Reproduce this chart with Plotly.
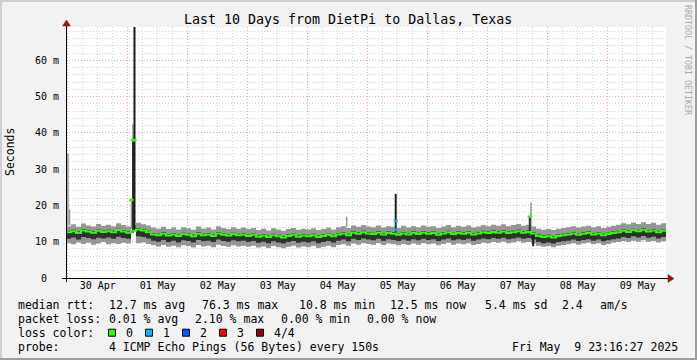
import pandas as pd
import plotly.graph_objects as go

# ---------------- data ----------------
start = "2025-04-29 23:16:27"
end = "2025-05-09 23:16:27"
step_hours = 2

med = [12.6, 12.9, 12.4, 13.1, 12.8, 12.5, 13.0, 12.7, 12.9, 12.6, 13.2, 12.8,
       12.5, 13.0, 13.4, 13.1, 12.6, 12.0, 11.8, 12.2, 11.7, 12.0, 11.6, 12.1,
       11.9, 11.5, 12.2, 11.8, 12.0, 11.6, 12.3, 11.9, 11.7, 12.1, 11.8, 12.0,
       11.6, 11.9, 11.4, 11.7, 11.3, 11.8, 11.5, 11.2, 11.6, 11.9, 11.4, 11.7,
       11.5, 11.8, 11.3, 11.6, 11.9, 11.5, 12.0, 12.3, 11.8, 12.5, 12.2, 12.6,
       12.3, 12.1, 12.5, 12.0, 12.4, 12.2, 11.9, 12.3, 12.0, 12.4, 12.1, 12.5,
       12.2, 12.4, 11.9, 12.3, 12.6, 12.1, 12.4, 12.2, 12.5, 12.0, 12.3, 12.6,
       12.4, 12.7, 12.5, 12.8, 12.4, 12.6, 12.9, 12.5, 12.7, 12.3, 11.6, 11.3,
       11.5, 11.2, 11.6, 11.8, 12.0, 12.3, 11.9, 12.2, 12.4, 12.0, 12.3, 11.8,
       12.1, 12.4, 12.6, 13.0, 12.7, 13.2, 12.9, 13.3, 12.8, 13.1, 12.6, 13.0]

smoke_hi = [14.3, 14.8, 14.1, 15.0, 14.5, 14.2, 14.9, 14.4, 14.7, 14.3, 15.1, 14.6,
            14.2, 14.6, 15.2, 14.8, 14.5, 13.9, 13.6, 14.1, 13.5, 13.9, 13.4, 14.0,
            13.7, 13.3, 14.2, 13.6, 13.9, 13.4, 14.3, 13.8, 13.5, 14.0, 13.6, 13.9,
            13.5, 13.8, 13.2, 13.6, 13.1, 13.7, 13.4, 13.0, 13.5, 13.8, 13.3, 13.6,
            13.4, 13.7, 13.2, 13.5, 13.9, 13.4, 14.0, 14.3, 13.8, 14.5, 14.1, 14.6,
            14.2, 14.0, 14.5, 13.9, 14.3, 14.1, 13.8, 14.4, 13.9, 14.3, 14.0, 14.5,
            14.1, 14.3, 13.8, 14.2, 14.6, 14.0, 14.4, 14.1, 14.5, 13.9, 14.2, 14.6,
            14.3, 14.7, 14.4, 14.8, 14.3, 14.6, 14.9, 14.4, 14.7, 14.2, 13.6, 13.3,
            13.5, 13.2, 13.6, 13.8, 14.0, 14.3, 13.9, 14.2, 14.4, 14.0, 14.3, 13.8,
            14.1, 14.4, 14.7, 15.1, 14.8, 15.3, 14.9, 15.4, 14.9, 15.2, 14.7, 15.1]

smoke_lo = [9.6, 9.3, 9.8, 9.4, 9.7, 9.2, 9.5, 9.9, 9.3, 9.6, 9.4, 9.7,
            9.5, 13.6, 9.6, 9.8, 9.4, 9.0, 8.7, 9.1, 8.6, 8.9, 8.5, 9.0,
            8.8, 8.4, 9.1, 8.7, 8.9, 8.5, 9.2, 8.8, 8.6, 9.0, 8.7, 8.9,
            8.6, 8.9, 8.4, 8.7, 8.3, 8.8, 8.5, 8.2, 8.6, 8.9, 8.4, 8.7,
            8.5, 8.8, 8.3, 8.6, 8.9, 8.5, 9.1, 9.3, 8.9, 9.5, 9.2, 9.6,
            9.4, 9.2, 9.6, 9.1, 9.5, 9.3, 9.0, 9.4, 9.1, 9.5, 9.2, 9.6,
            9.3, 9.5, 9.0, 9.4, 9.7, 9.2, 9.5, 9.3, 9.6, 9.1, 9.4, 9.7,
            9.6, 9.9, 9.7, 10.0, 9.6, 9.8, 10.1, 9.7, 9.9, 9.5, 8.9, 8.6,
            8.8, 8.5, 8.9, 9.1, 9.3, 9.6, 9.2, 9.5, 9.7, 9.3, 9.6, 9.1,
            9.4, 9.7, 9.9, 10.2, 9.9, 10.3, 10.0, 10.4, 10.0, 10.2, 9.8, 10.1]

dense_lo = [10.8, 11.2, 10.6, 11.3, 11.0, 10.7, 11.1, 10.9, 11.2, 10.8, 11.4, 11.0,
            10.8, 13.6, 11.5, 11.3, 10.9, 10.3, 10.0, 10.5, 9.9, 10.3, 9.8, 10.4,
            10.2, 9.8, 10.5, 10.1, 10.3, 9.9, 10.6, 10.2, 10.0, 10.4, 10.1, 10.3,
            9.9, 10.2, 9.7, 10.0, 9.6, 10.1, 9.8, 9.5, 9.9, 10.2, 9.7, 10.0,
            9.8, 10.1, 9.6, 9.9, 10.2, 9.8, 10.3, 10.6, 10.1, 10.8, 10.5, 10.9,
            10.6, 10.4, 10.8, 10.3, 10.7, 10.5, 10.2, 10.6, 10.3, 10.7, 10.4, 10.8,
            10.5, 10.7, 10.2, 10.6, 10.9, 10.4, 10.7, 10.5, 10.8, 10.3, 10.6, 10.9,
            10.7, 11.0, 10.8, 11.1, 10.7, 10.9, 11.2, 10.8, 11.0, 10.6, 9.9, 9.6,
            9.8, 9.5, 9.9, 10.1, 10.3, 10.6, 10.2, 10.5, 10.7, 10.3, 10.6, 10.1,
            10.4, 10.7, 10.9, 11.3, 11.0, 11.5, 11.2, 11.6, 11.1, 11.4, 10.9, 11.3]

dense_hi = [13.0, 13.3, 12.8, 13.5, 13.2, 12.9, 13.4, 13.1, 13.3, 13.0, 13.6, 13.2,
            12.9, 14.0, 13.8, 13.5, 13.0, 12.4, 12.2, 12.6, 12.1, 12.4, 12.0, 12.5,
            12.3, 11.9, 12.6, 12.2, 12.4, 12.0, 12.7, 12.3, 12.1, 12.5, 12.2, 12.4,
            12.0, 12.3, 11.8, 12.1, 11.7, 12.2, 11.9, 11.6, 12.0, 12.3, 11.8, 12.1,
            11.9, 12.2, 11.7, 12.0, 12.3, 11.9, 12.4, 12.7, 12.2, 12.9, 12.6, 13.0,
            12.7, 12.5, 12.9, 12.4, 12.8, 12.6, 12.3, 12.7, 12.4, 12.8, 12.5, 12.9,
            12.6, 12.8, 12.3, 12.7, 13.0, 12.5, 12.8, 12.6, 12.9, 12.4, 12.7, 13.0,
            12.8, 13.1, 12.9, 13.2, 12.8, 13.0, 13.3, 12.9, 13.1, 12.7, 12.0, 11.7,
            11.9, 11.6, 12.0, 12.2, 12.4, 12.7, 12.3, 12.6, 12.8, 12.4, 12.7, 12.2,
            12.5, 12.8, 13.0, 13.4, 13.1, 13.6, 13.3, 13.7, 13.2, 13.5, 13.0, 13.4]

# narrow spikes (time, low, high, shade)
spike_time = ["2025-04-30 00:04", "2025-04-30 00:40", "2025-05-01 01:28",
              "2025-05-01 02:04", "2025-05-01 02:04", "2025-05-01 02:40",
              "2025-05-04 15:33", "2025-05-05 11:09", "2025-05-05 11:09",
              "2025-05-07 16:47", "2025-05-07 17:16", "2025-05-07 18:08"]
spike_lo = [14.5, 14.5, 13.6, 38.0, 12.5, 13.0, 14.0, 12.0, 15.8, 12.0, 14.0, 8.8]
spike_hi = [34.3, 18.8, 21.5, 42.4, 38.0, 76.3, 16.9, 15.8, 23.2, 16.9, 20.8, 12.0]
spike_shade = ["light", "light", "light", "light", "dark", "black",
               "light", "dark", "black", "dark", "light", "black"]

# median marks inside spikes (time, value, loss index)
mark_time = ["2025-05-01 01:28", "2025-05-01 02:04", "2025-05-01 02:40",
             "2025-05-05 11:09", "2025-05-05 11:09", "2025-05-07 16:47"]
mark_val = [21.5, 38.0, 38.0, 15.8, 13.3, 16.9]
mark_loss = [0, 0, 0, 1, 1, 0]

loss_labels = ["0", "1", "2", "3", "4/4"]
loss_colors = ["#26ff00", "#00b8ff", "#0059ff", "#ff0000", "#a10000"]

y_tickvals = [0, 10, 20, 30, 40, 50, 60]
y_ticktext = ["0\u00a0\u00a0", "10 m", "20 m", "30 m", "40 m", "50 m", "60 m"]

title = "Last 10 Days from DietPi to Dallas, Texas"
rtt_label = "median rtt:"
rtt_items = ["12.7 ms avg", "76.3 ms max", "10.8 ms min", "12.5 ms now", "5.4 ms sd", "2.4", "am/s"]
loss_label = "packet loss:"
loss_items = ["0.01 % avg", "2.10 % max", "0.00 % min", "0.00 % now"]
color_label = "loss color:"
probe_label = "probe:"
probe_text = "4 ICMP Echo Pings (56 Bytes) every 150s"
stamp = "Fri May  9 23:16:27 2025"
watermark = "RRDTOOL / TOBI OETIKER"

# ---------------- layout geometry (pixels) ----------------
W_TOT, H_TOT = 697, 360
L, R, T, B = 66, 666, 27, 278
PW, PH = R - L, B - T


def px(x):
    return (x - L) / PW


def py(y):
    return (B - y) / PH


MONO = "DejaVu Sans Mono"
LIGHT = "#969696"
DARK = "#303030"
BLACK = "#1a1a1a"
GRID = "#d4d4d4"
MGRID = "#eea6a6"

times = pd.date_range(start, periods=len(med) + 1, freq=f"{step_hours}h")


def ext(v):
    return list(v) + [v[-1]]


fig = go.Figure()
fig.add_trace(go.Scatter(x=times, y=ext(smoke_lo), mode="lines", line=dict(width=0, shape="hv"),
                         hoverinfo="skip", showlegend=False))
fig.add_trace(go.Scatter(x=times, y=ext(smoke_hi), mode="lines", line=dict(width=0, shape="hv"),
                         fill="tonexty", fillcolor=LIGHT, hoverinfo="skip", showlegend=False))
fig.add_trace(go.Scatter(x=times, y=ext(dense_lo), mode="lines", line=dict(width=0, shape="hv"),
                         hoverinfo="skip", showlegend=False))
fig.add_trace(go.Scatter(x=times, y=ext(dense_hi), mode="lines", line=dict(width=0, shape="hv"),
                         fill="tonexty", fillcolor=DARK, hoverinfo="skip", showlegend=False))

shade_style = {"light": (LIGHT, 1.5), "dark": (DARK, 2), "black": (BLACK, 2)}
for shade in ["light", "dark", "black"]:
    xs, ys = [], []
    for t, lo, hi, s in zip(spike_time, spike_lo, spike_hi, spike_shade):
        if s == shade:
            xs += [t, t, None]
            ys += [lo, hi, None]
    col, w = shade_style[shade]
    fig.add_trace(go.Scatter(x=xs, y=ys, mode="lines", line=dict(color=col, width=w),
                             hoverinfo="skip", showlegend=False))

fig.add_trace(go.Scatter(x=times, y=ext(med), mode="lines",
                         line=dict(color=loss_colors[0], width=2, shape="hv"),
                         hoverinfo="skip", showlegend=False))
fig.add_trace(go.Scatter(x=mark_time, y=mark_val, mode="markers",
                         marker=dict(symbol="line-ew", size=3,
                                     line=dict(width=2.5, color=[loss_colors[k] for k in mark_loss])),
                         hoverinfo="skip", showlegend=False))

shapes = []
# 3D frame
shapes.append(dict(type="rect", xref="paper", yref="paper", x0=px(0), x1=px(W_TOT), y0=py(0), y1=py(2),
                   fillcolor="#cfcfcf", line=dict(width=0), layer="above"))
shapes.append(dict(type="rect", xref="paper", yref="paper", x0=px(0), x1=px(2), y0=py(0), y1=py(H_TOT),
                   fillcolor="#cfcfcf", line=dict(width=0), layer="above"))
shapes.append(dict(type="rect", xref="paper", yref="paper", x0=px(0), x1=px(W_TOT), y0=py(H_TOT - 2), y1=py(H_TOT),
                   fillcolor="#9e9e9e", line=dict(width=0), layer="above"))
shapes.append(dict(type="rect", xref="paper", yref="paper", x0=px(W_TOT - 2), x1=px(W_TOT), y0=py(0), y1=py(H_TOT),
                   fillcolor="#9e9e9e", line=dict(width=0), layer="above"))
# axis lines
shapes.append(dict(type="line", xref="paper", yref="paper", x0=px(62), x1=px(669), y0=py(278.5), y1=py(278.5),
                   line=dict(color="black", width=1), layer="above"))
shapes.append(dict(type="line", xref="paper", yref="paper", x0=px(66.5), x1=px(66.5), y0=py(282), y1=py(24),
                   line=dict(color="black", width=1), layer="above"))
# axis arrows
shapes.append(dict(type="path", xref="paper", yref="paper",
                   path=f"M {px(668)} {py(274.5)} L {px(674)} {py(278.5)} L {px(668)} {py(282.5)} Z",
                   fillcolor="#a01010", line=dict(color="#a01010", width=0.5), layer="above"))
shapes.append(dict(type="path", xref="paper", yref="paper",
                   path=f"M {px(62.5)} {py(26)} L {px(66.5)} {py(20)} L {px(70.5)} {py(26)} Z",
                   fillcolor="#a01010", line=dict(color="#a01010", width=0.5), layer="above"))

annotations = []


def text(x, y, s, size=11.5, anchor="left", color="black", angle=0):
    annotations.append(dict(x=px(x), y=py(y), xref="paper", yref="paper", text=s, showarrow=False,
                            xanchor=anchor, yanchor="middle", textangle=angle,
                            font=dict(family=MONO, size=size, color=color)))


text(348, 19.5, title, size=13.3, anchor="center")
text(10, 152, "Seconds", size=11.5, anchor="center", angle=-90)
text(688, 60, watermark, size=8.3, anchor="center", color="#aaaaaa", angle=90)

row_y = [304.5, 318.5, 332.7, 346.7]
text(16, row_y[0], rtt_label)
for s, x in zip(rtt_items, [107.3, 200, 297, 388, 483, 560, 598]):
    text(x, row_y[0], s)
text(16, row_y[1], loss_label)
for s, x in zip(loss_items, [107.3, 193.3, 279.3, 365]):
    text(x, row_y[1], s)
text(16, row_y[2], color_label)
for k, (lab, col) in enumerate(zip(loss_labels, loss_colors)):
    bx = 108.5 + 37 * k
    shapes.append(dict(type="rect", xref="paper", yref="paper", x0=px(bx), x1=px(bx + 7),
                       y0=py(row_y[2] + 3.5), y1=py(row_y[2] - 3.5),
                       fillcolor=col, line=dict(color="black", width=1), layer="above"))
    text(bx + 15.5, row_y[2], lab)
text(16, row_y[3], probe_label)
text(107.3, row_y[3], probe_text)
text(680, row_y[3], stamp, anchor="right")

fig.update_layout(
    width=W_TOT, height=H_TOT, autosize=False,
    margin=dict(l=L, r=W_TOT - R, t=T, b=H_TOT - B, pad=0),
    paper_bgcolor="#f2f2f2", plot_bgcolor="white",
    showlegend=False,
    shapes=shapes, annotations=annotations,
    xaxis=dict(type="date", range=[start, end], tick0="2025-04-30", dtick=86400000,
               ticklabelmode="period", tickformat="%d %b", ticks="",
               showgrid=True, gridcolor=MGRID, gridwidth=1, griddash="1px,2px",
               minor=dict(dtick=6 * 3600000, showgrid=True, gridcolor=GRID, griddash="1px,2px", gridwidth=1),
               zeroline=False, showline=False, fixedrange=True,
               tickfont=dict(family=MONO, size=10, color="black")),
    yaxis=dict(range=[0, 69.2], tickvals=y_tickvals, ticktext=y_ticktext, ticks="",
               ticklabelstandoff=6,
               showgrid=True, gridcolor=MGRID, gridwidth=1, griddash="1px,2px",
               minor=dict(dtick=2, showgrid=True, gridcolor=GRID, griddash="1px,2px", gridwidth=1),
               zeroline=False, showline=False, fixedrange=True,
               tickfont=dict(family=MONO, size=10, color="black")),
)

fig.write_html("out.html")
